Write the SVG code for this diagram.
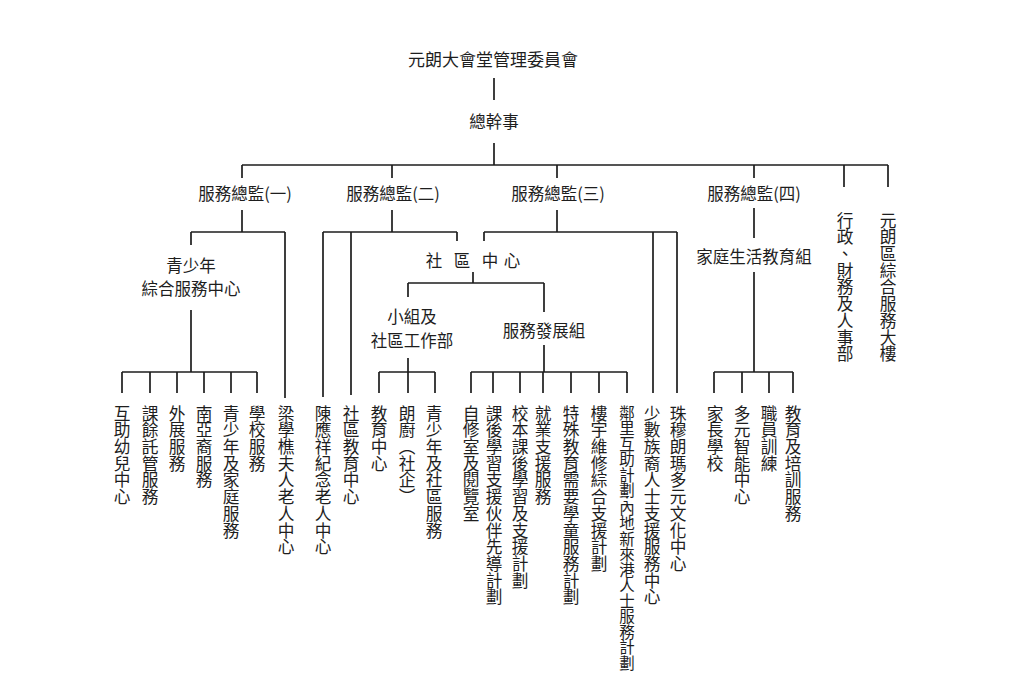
<svg xmlns="http://www.w3.org/2000/svg" width="1020" height="676" viewBox="0 0 1020 676">
<style>
  text { font-family: "Noto Sans CJK TC", "Noto Sans CJK SC", sans-serif; fill: #1e1e1e; }
  .h { font-size: 16.5px; text-anchor: middle; }
  .t { font-size: 17px; text-anchor: middle; }
  .v { font-size: 16.7px; writing-mode: vertical-rl; text-orientation: mixed; }
  .vs { font-size: 15.5px; }
  .ln { stroke: #1e1e1e; stroke-width: 1.7; fill: none; }
</style>
<rect width="1020" height="676" fill="#ffffff"/>
<g id="connectors" class="ln">
  <path d="M494 78V100M494 143V165M242 165H888M242 165V178M392 165V178M557 165V178M754 165V178M844 165V187M888 165V187"/>
  <path d="M242 210V232M191 232H285M191 232V245M285 232V398M191 310V372M122 372H257M122 372V393M150 372V393M177 372V393M204 372V393M231 372V393M257 372V393"/>
  <path d="M392 210V232M323 232H457M323 232V397M351 232V395M457 232V241"/>
  <path d="M557 210V232M484 232H677M484 232V241M653 232V393M677 232V393"/>
  <path d="M473 272V283M408 283H544M408 283V297M544 283V312"/>
  <path d="M408 358V372M379 372H435M379 372V393M408 372V393M435 372V393"/>
  <path d="M544 345V372M471 372H627M471 372V393M493 372V393M520 372V393M543 372V393M571 372V393M599 372V393M627 372V393"/>
  <path d="M754 208V238M754 272V372M714 372H793M714 372V393M742 372V393M769 372V393M793 372V393"/>
</g>
<g id="committee"><text class="t" x="493" y="66">元朗大會堂管理委員會</text></g>
<g id="gm"><text class="h" x="494" y="128">總幹事</text></g>
<g id="dir1"><text class="h" x="245" y="200">服務總監(一)</text></g>
<g id="dir2"><text class="h" x="393" y="200">服務總監(二)</text></g>
<g id="dir3"><text class="h" x="558" y="200">服務總監(三)</text></g>
<g id="dir4"><text class="h" x="754" y="200">服務總監(四)</text></g>
<g id="youth-centre"><text class="h" x="191" y="272">青少年</text><text class="h" x="191" y="295">綜合服務中心</text></g>
<g id="community-centre"><text class="h" x="434 462 490 512" y="267">社區中心</text></g>
<g id="group-work"><text class="h" x="412" y="323">小組及</text><text class="h" x="412" y="347">社區工作部</text></g>
<g id="service-dev"><text class="h" x="544" y="337">服務發展組</text></g>
<g id="family-life"><text class="h" x="754" y="263">家庭生活教育組</text></g>
<g id="admin"><text class="v" x="845" y="212">行政、財務及人事部</text></g>
<g id="complex"><text class="v" x="888" y="212">元朗區綜合服務大樓</text></g>
<g id="u1"><text class="v" x="122" y="405">互助幼兒中心</text></g>
<g id="u2"><text class="v" x="150" y="405">課餘託管服務</text></g>
<g id="u3"><text class="v" x="177" y="405">外展服務</text></g>
<g id="u4"><text class="v" x="204" y="405">南亞裔服務</text></g>
<g id="u5"><text class="v" x="231" y="405">青少年及家庭服務</text></g>
<g id="u6"><text class="v" x="257" y="405">學校服務</text></g>
<g id="u7"><text class="v" x="286" y="405">梁學樵夫人老人中心</text></g>
<g id="u8"><text class="v" x="323" y="405">陳應祥紀念老人中心</text></g>
<g id="u9"><text class="v" x="351" y="405">社區教育中心</text></g>
<g id="u10"><text class="v" x="379" y="405">教育中心</text></g>
<g id="u11"><text class="v" x="407" y="405">朗廚（社企）</text></g>
<g id="u12"><text class="v" x="434" y="405">青少年及社區服務</text></g>
<g id="u13"><text class="v" x="471" y="405">自修室及閱覽室</text></g>
<g id="u14"><text class="v" x="494" y="405">課後學習支援伙伴先導計劃</text></g>
<g id="u15"><text class="v" x="520" y="405">校本課後學習及支援計劃</text></g>
<g id="u16"><text class="v" x="543" y="405">就業支援服務</text></g>
<g id="u17"><text class="v" x="571" y="405">特殊教育需要學童服務計劃</text></g>
<g id="u18"><text class="v" x="599" y="405">樓宇維修綜合支援計劃</text></g>
<g id="u19"><text class="v vs" x="627" y="405"><tspan y="405">鄰里互助計劃</tspan><tspan y="493" style="font-size:9px">·</tspan><tspan y="500">內地新來港人士服務計劃</tspan></text></g>
<g id="u20"><text class="v" x="652" y="405">少數族裔人士支援服務中心</text></g>
<g id="u21"><text class="v" x="678" y="405">珠穆朗瑪多元文化中心</text></g>
<g id="u22"><text class="v" x="715" y="405">家長學校</text></g>
<g id="u23"><text class="v" x="742" y="405">多元智能中心</text></g>
<g id="u24"><text class="v" x="769" y="405">職員訓練</text></g>
<g id="u25"><text class="v" x="793" y="405">教育及培訓服務</text></g>
</svg>
